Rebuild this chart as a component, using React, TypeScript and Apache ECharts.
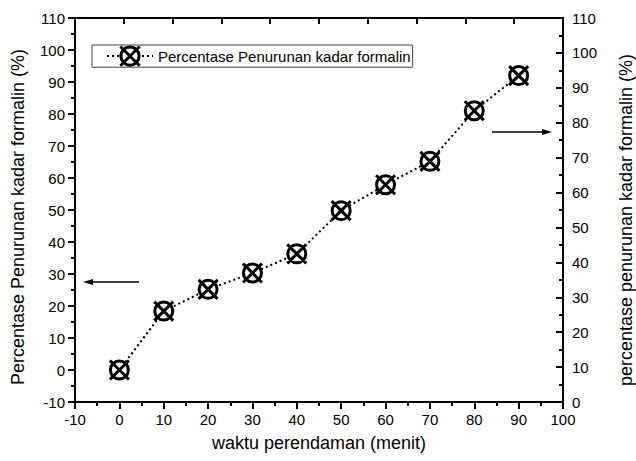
import React, { useEffect, useRef } from "react";
import * as echarts from "echarts";

const timeMinutes = [0, 10, 20, 30, 40, 50, 60, 70, 80, 90];
const percentDecrease = [0, 18.4, 25.2, 30.3, 36.3, 49.8, 57.9, 65.2, 81, 92];
const seriesName = "Percentase Penurunan kadar formalin";
const xTitle = "waktu perendaman (menit)";
const yLeftTitle = "Percentase Penurunan kadar formalin (%)";
const yRightTitle = "percentase penurunan kadar formalin (%)";

const FONT = "'Liberation Sans', Arial, sans-serif";
const markerPath =
  "path://M1,10 A9,9 0 1,1 19,10 A9,9 0 1,1 1,10 Z M0.5,0.5 L19.5,19.5 M19.5,0.5 L0.5,19.5";

export default function App() {
  const ref = useRef<HTMLDivElement>(null);
  useEffect(() => {
    if (!ref.current) return;
    const chart = echarts.init(ref.current, undefined, { renderer: "svg" });
    const axisLineStyle = { color: "#000", width: 2 };
    const labelStyle = { color: "#000", fontSize: 15, fontFamily: FONT };
    chart.setOption({
      animation: false,
      backgroundColor: "#fff",
      grid: { left: 75, right: 73, top: 18, bottom: 59 },
      legend: {
        show: true,
        left: 92,
        top: 45,
        itemWidth: 46,
        itemHeight: 24,
        padding: [0, 2, 0, 14],
        borderColor: "#444",
        borderWidth: 1,
        textStyle: { color: "#000", fontSize: 15, fontFamily: FONT },
        itemStyle: { color: "#fff", borderColor: "#000", borderWidth: 3 },
        data: [seriesName],
      },
      xAxis: [
        {
          type: "value",
          position: "bottom",
          min: -10,
          max: 100,
          interval: 10,
          axisLine: { show: true, onZero: false, lineStyle: axisLineStyle },
          axisTick: { show: true, inside: false, length: 7, lineStyle: axisLineStyle },
          minorTick: { show: true, splitNumber: 2, length: 4, lineStyle: axisLineStyle },
          axisLabel: { ...labelStyle, margin: 10 },
          splitLine: { show: false },
        },
        {
          type: "value",
          position: "top",
          min: 0,
          max: 10,
          interval: 1,
          axisLine: { show: true, onZero: false, lineStyle: axisLineStyle },
          axisTick: { show: true, inside: true, length: 6, lineStyle: axisLineStyle },
          axisLabel: { show: false },
          splitLine: { show: false },
        },
      ],
      yAxis: [
        {
          type: "value",
          position: "left",
          min: -10,
          max: 110,
          interval: 10,
          axisLine: { show: true, onZero: false, lineStyle: axisLineStyle },
          axisTick: { show: true, inside: false, length: 7, lineStyle: axisLineStyle },
          minorTick: { show: true, splitNumber: 2, length: 4, lineStyle: axisLineStyle },
          axisLabel: { ...labelStyle, margin: 10 },
          splitLine: { show: false },
        },
        {
          type: "value",
          position: "right",
          min: 0,
          max: 110,
          interval: 10,
          axisLine: { show: true, onZero: false, lineStyle: axisLineStyle },
          axisTick: { show: true, inside: true, length: 7, lineStyle: axisLineStyle },
          minorTick: { show: true, splitNumber: 2, length: 4, lineStyle: axisLineStyle },
          axisLabel: { ...labelStyle, margin: 9 },
          splitLine: { show: false },
        },
      ],
      series: [
        {
          name: seriesName,
          type: "line",
          xAxisIndex: 0,
          yAxisIndex: 0,
          data: timeMinutes.map((t, i) => [t, percentDecrease[i]]),
          symbol: markerPath,
          symbolSize: 19,
          itemStyle: { color: "#fff", borderColor: "#000", borderWidth: 3 },
          lineStyle: { color: "#000", width: 2, type: [2, 3] },
          z: 3,
        },
      ],
      graphic: [
        {
          type: "line",
          shape: { x1: 139, y1: 282, x2: 88, y2: 282 },
          style: { stroke: "#000", lineWidth: 1.3 },
        },
        {
          type: "polygon",
          shape: { points: [[83, 282], [93, 279], [93, 285]] },
          style: { fill: "#000" },
        },
        {
          type: "line",
          shape: { x1: 492, y1: 132, x2: 546, y2: 132 },
          style: { stroke: "#000", lineWidth: 1.3 },
        },
        {
          type: "polygon",
          shape: { points: [[552, 132], [542, 129], [542, 135]] },
          style: { fill: "#000" },
        },
        {
          type: "text",
          x: 18,
          y: 217,
          rotation: Math.PI / 2,
          style: {
            text: yLeftTitle,
            fontSize: 18,
            fontFamily: FONT,
            fill: "#000",
            align: "center",
            verticalAlign: "middle",
          },
        },
        {
          type: "text",
          x: 626,
          y: 220,
          rotation: Math.PI / 2,
          style: {
            text: yRightTitle,
            fontSize: 18,
            fontFamily: FONT,
            fill: "#000",
            align: "center",
            verticalAlign: "middle",
          },
        },
        {
          type: "text",
          x: 319,
          y: 443,
          style: {
            text: xTitle,
            fontSize: 18,
            fontFamily: FONT,
            fill: "#000",
            align: "center",
            verticalAlign: "middle",
          },
        },
      ],
    });
    return () => chart.dispose();
  }, []);
  return (
    <div
      ref={ref}
      style={{ position: "fixed", left: 0, top: 0, width: 636, height: 461, background: "#fff" }}
    />
  );
}
